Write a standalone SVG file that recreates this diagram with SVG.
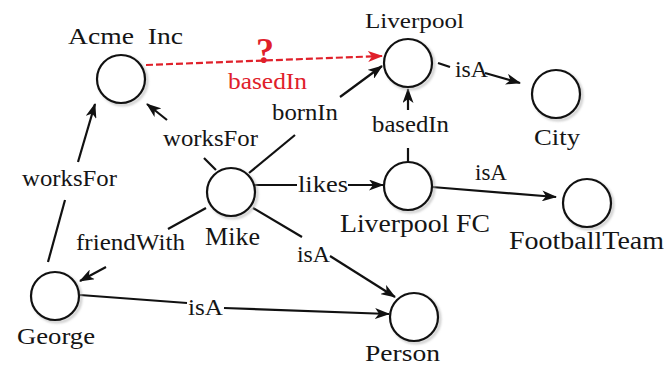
<svg xmlns="http://www.w3.org/2000/svg" width="664" height="367" viewBox="0 0 664 367" font-family="Liberation Serif, Times New Roman, Tinos, serif">
  <style>
    .node circle { fill: #ffffff; stroke: #111111; stroke-width: 2.2; }
    .node circle.shadow { fill: none; stroke: #b0b0b0; stroke-width: 3; opacity: 0.6; }
    text { fill: #151515; }
    .red { fill: #e0202a; }
    .edge { fill: none; stroke: #111111; stroke-width: 2.2; }
    .dashed { fill: none; stroke: #e0202a; stroke-width: 2.2; stroke-dasharray: 7 3; }
  </style>
  <defs>
    <marker id="arrow" viewBox="0 0 15 11" refX="14" refY="5.5" markerWidth="15" markerHeight="11" markerUnits="userSpaceOnUse" orient="auto">
      <path d="M0,0 L15,5.5 L0,11 L4,5.5 Z" fill="#111111"/>
    </marker>
    <marker id="arrowRed" viewBox="0 0 15 11" refX="14" refY="5.5" markerWidth="15" markerHeight="11" markerUnits="userSpaceOnUse" orient="auto">
      <path d="M0,0 L15,5.5 L0,11 L4,5.5 Z" fill="#e0202a"/>
    </marker>
    <filter id="soft" x="-20%" y="-20%" width="140%" height="140%">
      <feGaussianBlur stdDeviation="1.2"/>
    </filter>
  </defs>

  <!-- connectors -->
  <g id="edges">
    <!-- Acme Inc -> Liverpool (inferred, dashed) -->
    <line class="dashed" x1="146" y1="65" x2="382" y2="56" marker-end="url(#arrowRed)"/>
    <!-- Mike -> Acme Inc : worksFor -->
    <line class="edge" x1="216" y1="170" x2="204" y2="158"/>
    <line class="edge" x1="167" y1="120" x2="147" y2="104" marker-end="url(#arrow)"/>
    <!-- George -> Acme Inc : worksFor -->
    <line class="edge" x1="48" y1="262" x2="65" y2="200"/>
    <line class="edge" x1="78" y1="162" x2="95" y2="104" marker-end="url(#arrow)"/>
    <!-- Mike -> Liverpool : bornIn -->
    <line class="edge" x1="249" y1="173" x2="295" y2="135"/>
    <line class="edge" x1="340" y1="97" x2="382" y2="66" marker-end="url(#arrow)"/>
    <!-- Liverpool -> City : isA -->
    <line class="edge" x1="438" y1="63" x2="450" y2="67"/>
    <line class="edge" x1="485" y1="73" x2="520" y2="83" marker-end="url(#arrow)"/>
    <!-- Liverpool FC -> Liverpool : basedIn -->
    <line class="edge" x1="408" y1="162" x2="408" y2="148"/>
    <line class="edge" x1="408" y1="110" x2="408" y2="89" marker-end="url(#arrow)"/>
    <!-- Mike -> Liverpool FC : likes -->
    <line class="edge" x1="255" y1="185" x2="297" y2="185"/>
    <line class="edge" x1="348" y1="185" x2="383" y2="185" marker-end="url(#arrow)"/>
    <!-- Liverpool FC -> FootballTeam : isA -->
    <line class="edge" x1="432" y1="187" x2="556" y2="197" marker-end="url(#arrow)"/>
    <!-- Mike -> George : friendWith -->
    <line class="edge" x1="206" y1="208" x2="168" y2="229"/>
    <line class="edge" x1="106" y1="267" x2="80" y2="281" marker-end="url(#arrow)"/>
    <!-- Mike -> Person : isA -->
    <line class="edge" x1="253" y1="208" x2="302" y2="237"/>
    <line class="edge" x1="330" y1="256" x2="395" y2="297" marker-end="url(#arrow)"/>
    <!-- George -> Person : isA -->
    <line class="edge" x1="80" y1="295" x2="187" y2="303"/>
    <line class="edge" x1="224" y1="308" x2="389" y2="314" marker-end="url(#arrow)"/>
  </g>

  <!-- edge labels -->
  <g id="edge-labels" font-size="23">
    <text class="red" x="265" y="63" text-anchor="middle" font-weight="bold" style="font-size:36px">?</text>
    <text class="red" x="228" y="89" textLength="79" lengthAdjust="spacingAndGlyphs">basedIn</text>
    <text x="163" y="146" textLength="95" lengthAdjust="spacingAndGlyphs">worksFor</text>
    <text x="22" y="186" textLength="95" lengthAdjust="spacingAndGlyphs">worksFor</text>
    <text x="272" y="120" textLength="66" lengthAdjust="spacingAndGlyphs">bornIn</text>
    <text x="455" y="77" textLength="33" lengthAdjust="spacingAndGlyphs">isA</text>
    <text x="372" y="132" textLength="77" lengthAdjust="spacingAndGlyphs">basedIn</text>
    <text x="298" y="192" textLength="50" lengthAdjust="spacingAndGlyphs">likes</text>
    <text x="475" y="180" textLength="32" lengthAdjust="spacingAndGlyphs">isA</text>
    <text x="76" y="250" textLength="109" lengthAdjust="spacingAndGlyphs">friendWith</text>
    <text x="297" y="262" textLength="33" lengthAdjust="spacingAndGlyphs">isA</text>
    <text x="188" y="315" textLength="35" lengthAdjust="spacingAndGlyphs">isA</text>
  </g>

  <!-- nodes -->
  <g id="acme-inc" class="node">
    <circle class="shadow" cx="123" cy="81" r="24" filter="url(#soft)"/>
    <circle cx="121" cy="79" r="24"/>
    <text x="68" y="44" font-size="24" textLength="115" lengthAdjust="spacingAndGlyphs" xml:space="preserve">Acme  Inc</text>
  </g>
  <g id="liverpool" class="node">
    <circle class="shadow" cx="410" cy="65" r="24" filter="url(#soft)"/>
    <circle cx="408" cy="63" r="24"/>
    <text x="365" y="28" font-size="22" textLength="99" lengthAdjust="spacingAndGlyphs">Liverpool</text>
  </g>
  <g id="city" class="node">
    <circle class="shadow" cx="558" cy="96" r="24" filter="url(#soft)"/>
    <circle cx="556" cy="94" r="24"/>
    <text x="534" y="145" font-size="24" textLength="46" lengthAdjust="spacingAndGlyphs">City</text>
  </g>
  <g id="mike" class="node">
    <circle class="shadow" cx="233" cy="194" r="24" filter="url(#soft)"/>
    <circle cx="231" cy="192" r="24"/>
    <text x="205" y="245" font-size="25" textLength="55" lengthAdjust="spacingAndGlyphs">Mike</text>
  </g>
  <g id="liverpool-fc" class="node">
    <circle class="shadow" cx="410" cy="188" r="24" filter="url(#soft)"/>
    <circle cx="408" cy="186" r="24"/>
    <text x="340" y="232" font-size="26" textLength="150" lengthAdjust="spacingAndGlyphs">Liverpool FC</text>
  </g>
  <g id="footballteam" class="node">
    <circle class="shadow" cx="589" cy="205" r="24" filter="url(#soft)"/>
    <circle cx="587" cy="203" r="24"/>
    <text x="509" y="249" font-size="26" textLength="155" lengthAdjust="spacingAndGlyphs">FootballTeam</text>
  </g>
  <g id="george" class="node">
    <circle class="shadow" cx="57" cy="298" r="24" filter="url(#soft)"/>
    <circle cx="55" cy="296" r="24"/>
    <text x="17" y="344" font-size="24" textLength="78" lengthAdjust="spacingAndGlyphs">George</text>
  </g>
  <g id="person" class="node">
    <circle class="shadow" cx="416" cy="319" r="24" filter="url(#soft)"/>
    <circle cx="414" cy="317" r="24"/>
    <text x="365" y="361" font-size="24" textLength="75" lengthAdjust="spacingAndGlyphs">Person</text>
  </g>
</svg>
